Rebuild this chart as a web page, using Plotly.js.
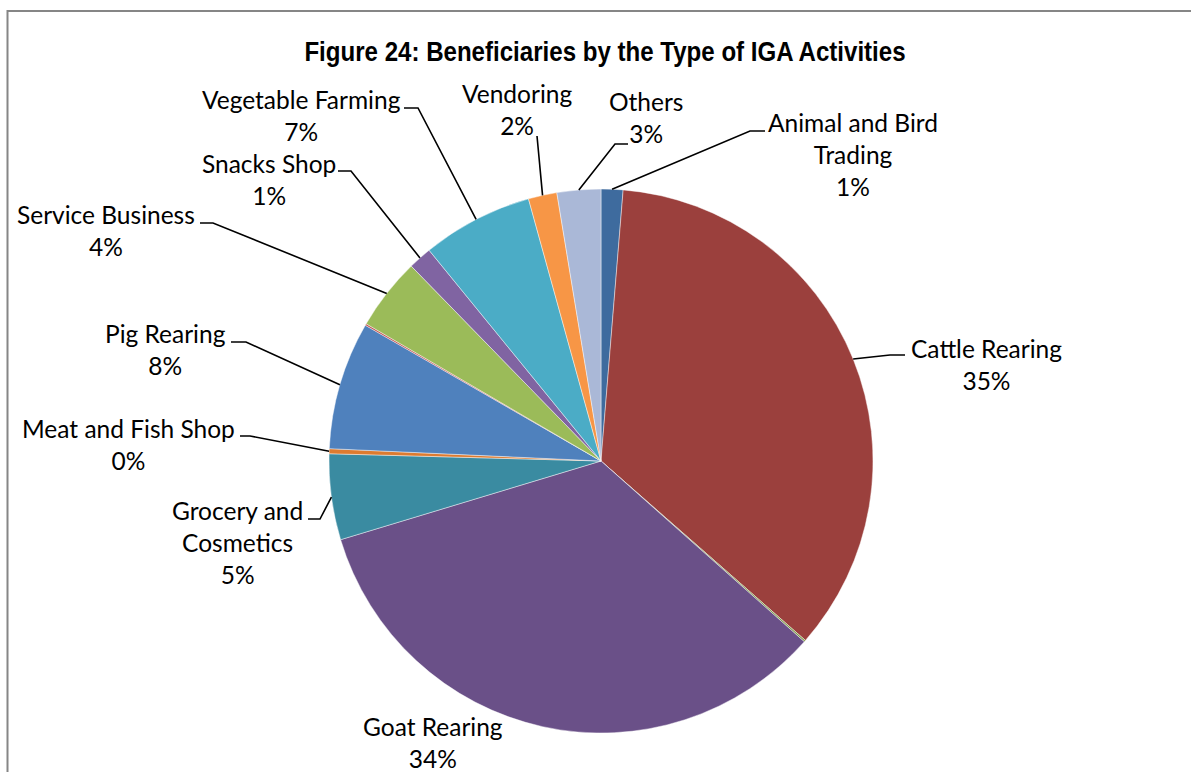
<!DOCTYPE html>
<html>
<head>
<meta charset="utf-8">
<script src="https://cdn.plot.ly/plotly-3.0.1.min.js"></script>
<style>
  html, body { margin: 0; padding: 0; background: #ffffff; }
  #chart { width: 1191px; height: 772px; }
</style>
</head>
<body>
<div id="chart"></div>
<script>
// Beneficiaries by type of IGA activity (percent of beneficiaries), clockwise from 12 o'clock
const activities = [
  "Animal and Bird Trading",
  "Cattle Rearing",
  "Other (a)",
  "Goat Rearing",
  "Grocery and Cosmetics",
  "Meat and Fish Shop",
  "Pig Rearing",
  "Other (b)",
  "Service Business",
  "Snacks Shop",
  "Vegetable Farming",
  "Vendoring",
  "Others"
];
const shares = [1.3, 35.2, 0.1, 33.8, 5.1, 0.3, 7.6, 0.1, 4.3, 1.4, 6.6, 1.7, 2.6];
const labelled = [true, true, false, true, true, true, true, false, true, true, true, true, true];

// Slice colours
const sliceColors = [
  "#3e6b9e", "#9b403d", "#7e9a45", "#6a5088", "#3a8ba1", "#dd7b30",
  "#4f81bd", "#c0504d", "#9bbb59", "#8064a2", "#4bacc6", "#f79646", "#aab8d7"
];

// Line breaks used in the data labels
const wrapped = {
  "Animal and Bird Trading": "Animal and Bird<br>Trading",
  "Grocery and Cosmetics": "Grocery and<br>Cosmetics"
};

// Page geometry (pixels)
const W = 1191, H = 772;
const cx = 601, cy = 461, R = 272;

// Label placement: text centre and leader-line elbow/end points, in pixels
const placement = {
  "Animal and Bird Trading": { tx: 853, ty: 154, line: [[750, 131], [765, 131]] },
  "Cattle Rearing":          { tx: 986, ty: 364, line: [[890, 355], [905, 355]] },
  "Goat Rearing":            { tx: 433, ty: 742.5, line: null },
  "Grocery and Cosmetics":   { tx: 237, ty: 542, line: [[320, 519], [308, 519]] },
  "Meat and Fish Shop":      { tx: 128, ty: 444.5, line: [[250, 436], [240, 436]] },
  "Pig Rearing":             { tx: 165, ty: 349.5, line: [[246, 342], [231, 342]] },
  "Service Business":        { tx: 106, ty: 231, line: [[213, 223], [200, 223]] },
  "Snacks Shop":             { tx: 269, ty: 179.5, line: [[351, 171], [338, 171]] },
  "Vegetable Farming":       { tx: 301, ty: 115.5, line: [[418, 108], [404, 108]] },
  "Vendoring":               { tx: 517, ty: 109, line: [[537, 136]] },
  "Others":                  { tx: 646, ty: 118, line: [[615, 144], [628, 144]] }
};

const px = x => x / W;
const py = y => 1 - y / H;

const total = shares.reduce((a, b) => a + b, 0);

const annotations = [];
const shapes = [];
let cum = 0;
shares.forEach((v, i) => {
  const mid = (cum + v / 2) / total;
  cum += v;
  if (!labelled[i]) return;
  const name = activities[i];
  const pl = placement[name];
  const pct = Math.round(v / total * 100);
  annotations.push({
    xref: "paper", yref: "paper",
    x: px(pl.tx), y: py(pl.ty),
    xanchor: "center", yanchor: "middle",
    text: (wrapped[name] || name) + "<br>" + pct + "%",
    showarrow: false,
    align: "center",
    font: { family: "Lato, 'Open Sans', sans-serif", size: 24.5, color: "#000000" }
  });
  if (pl.line) {
    const th = 2 * Math.PI * mid;
    const sx = cx + R * Math.sin(th);
    const sy = cy - R * Math.cos(th);
    let d = "M" + px(sx) + "," + py(sy);
    pl.line.forEach(p => { d += " L" + px(p[0]) + "," + py(p[1]); });
    shapes.push({
      type: "path", xref: "paper", yref: "paper", path: d,
      line: { color: "#000000", width: 1.6 }
    });
  }
});

// Chart-area frame
shapes.push({
  type: "rect", xref: "paper", yref: "paper",
  x0: px(7.5), x1: px(W + 5), y0: py(H + 5), y1: py(11),
  line: { color: "#868686", width: 2 }, fillcolor: "rgba(0,0,0,0)", layer: "below"
});

const trace = {
  type: "pie",
  labels: activities,
  values: shares,
  sort: false,
  direction: "clockwise",
  rotation: 0,
  textinfo: "none",
  hoverinfo: "label+percent",
  marker: { colors: sliceColors, line: { color: "rgba(255,255,255,0.55)", width: 0.8 } },
  domain: { x: [px(cx - R), px(cx + R)], y: [py(cy + R), py(cy - R)] },
  showlegend: false
};

const layout = {
  width: W, height: H,
  margin: { l: 0, r: 0, t: 0, b: 0 },
  paper_bgcolor: "#ffffff",
  showlegend: false,
  title: {
    text: "<b>Figure 24: Beneficiaries by the Type of IGA Activities</b>",
    x: 605 / W, xanchor: "center",
    y: 1 - 51 / H, yanchor: "middle", yref: "container",
    font: { family: "'Liberation Sans', Arial, sans-serif", size: 28, color: "#000000" }
  },
  annotations: annotations,
  shapes: shapes
};

Plotly.newPlot("chart", [trace], layout, { staticPlot: true, displayModeBar: false }).then(gd => {
  // Narrow the bold title face horizontally, keeping it centred
  const t = gd.querySelector(".gtitle");
  if (t) {
    const b = t.getBBox();
    const mx = b.x + b.width / 2;
    const prev = t.getAttribute("transform") || "";
    t.setAttribute("transform", prev + " translate(" + mx + ",0) scale(0.86,1) translate(" + (-mx) + ",0)");
  }
});
</script>
</body>
</html>
